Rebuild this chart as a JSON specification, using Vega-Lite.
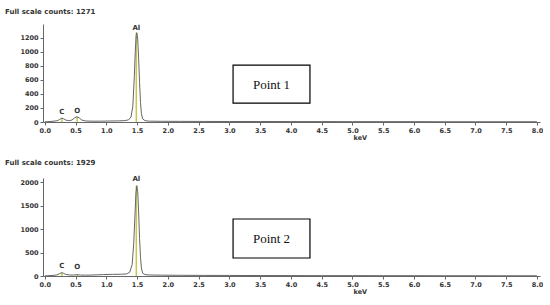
{
  "$schema": "https://vega.github.io/schema/vega-lite/v6.json",
  "padding": {"left": 5, "top": 7, "right": 0, "bottom": 0},
  "background": "white",
  "bounds": "flush",
  "spacing": 56,
  "config": {
    "view": {"stroke": null},
    "font": "DejaVu Sans",
    "axis": {
      "grid": false,
      "labelFontSize": 6.5,
      "labelFontWeight": "bold",
      "labelColor": "#333",
      "labelOverlap": false,
      "labelFlush": false,
      "domainColor": "#666",
      "tickColor": "#666",
      "tickSize": 3,
      "tickCount": 40,
      "titleFontSize": 6.5,
      "titleFontWeight": "bold",
      "titleColor": "#333"
    },
    "title": {"fontSize": 7, "fontWeight": "bold", "color": "#333", "anchor": "start", "frame": "group"}
  },
  "datasets": {
    "s1": [
      {"e": 0.0, "c": 2}, {"e": 0.05, "c": 5}, {"e": 0.1, "c": 8}, {"e": 0.15, "c": 12}, {"e": 0.2, "c": 18},
      {"e": 0.24, "c": 35}, {"e": 0.27, "c": 52}, {"e": 0.3, "c": 48}, {"e": 0.34, "c": 28}, {"e": 0.39, "c": 18},
      {"e": 0.44, "c": 28}, {"e": 0.48, "c": 55}, {"e": 0.52, "c": 75}, {"e": 0.56, "c": 58}, {"e": 0.6, "c": 28},
      {"e": 0.66, "c": 15}, {"e": 0.75, "c": 12}, {"e": 0.9, "c": 12}, {"e": 1.05, "c": 14}, {"e": 1.2, "c": 16},
      {"e": 1.3, "c": 20}, {"e": 1.36, "c": 30}, {"e": 1.4, "c": 70}, {"e": 1.43, "c": 220}, {"e": 1.455, "c": 650},
      {"e": 1.47, "c": 1000}, {"e": 1.485, "c": 1230}, {"e": 1.495, "c": 1271}, {"e": 1.51, "c": 1180}, {"e": 1.525, "c": 900},
      {"e": 1.54, "c": 560}, {"e": 1.555, "c": 280}, {"e": 1.57, "c": 120}, {"e": 1.59, "c": 45}, {"e": 1.63, "c": 18},
      {"e": 1.7, "c": 12}, {"e": 1.9, "c": 10}, {"e": 2.2, "c": 9}, {"e": 2.6, "c": 8}, {"e": 3.0, "c": 7},
      {"e": 3.5, "c": 7}, {"e": 4.0, "c": 6}, {"e": 4.5, "c": 6}, {"e": 5.0, "c": 5}, {"e": 5.5, "c": 5},
      {"e": 6.0, "c": 5}, {"e": 6.5, "c": 4}, {"e": 7.0, "c": 4}, {"e": 7.5, "c": 4}, {"e": 8.0, "c": 4}
    ],
    "s2": [
      {"e": 0.0, "c": 2}, {"e": 0.05, "c": 6}, {"e": 0.1, "c": 10}, {"e": 0.15, "c": 15}, {"e": 0.2, "c": 25},
      {"e": 0.24, "c": 50}, {"e": 0.27, "c": 70}, {"e": 0.3, "c": 60}, {"e": 0.34, "c": 35}, {"e": 0.4, "c": 22},
      {"e": 0.46, "c": 20}, {"e": 0.52, "c": 28}, {"e": 0.58, "c": 20}, {"e": 0.66, "c": 18}, {"e": 0.8, "c": 22},
      {"e": 0.95, "c": 30}, {"e": 1.1, "c": 35}, {"e": 1.25, "c": 38}, {"e": 1.33, "c": 45}, {"e": 1.38, "c": 80},
      {"e": 1.42, "c": 250}, {"e": 1.445, "c": 700}, {"e": 1.465, "c": 1300}, {"e": 1.48, "c": 1750}, {"e": 1.495, "c": 1929},
      {"e": 1.51, "c": 1800}, {"e": 1.525, "c": 1350}, {"e": 1.54, "c": 800}, {"e": 1.555, "c": 400}, {"e": 1.57, "c": 170},
      {"e": 1.59, "c": 60}, {"e": 1.63, "c": 30}, {"e": 1.7, "c": 22}, {"e": 1.9, "c": 18}, {"e": 2.2, "c": 15},
      {"e": 2.6, "c": 13}, {"e": 3.0, "c": 12}, {"e": 3.5, "c": 10}, {"e": 4.0, "c": 9}, {"e": 4.5, "c": 8},
      {"e": 5.0, "c": 8}, {"e": 5.5, "c": 7}, {"e": 6.0, "c": 7}, {"e": 6.5, "c": 6}, {"e": 7.0, "c": 6},
      {"e": 7.5, "c": 5}, {"e": 8.0, "c": 5}
    ],
    "l1": [
      {"e": 0.277, "z": 0, "c": 60, "t": 95, "lab": "C"},
      {"e": 0.525, "z": 0, "c": 80, "t": 120, "lab": "O"},
      {"e": 1.487, "z": 0, "c": 1271, "t": 1300, "lab": "Al"}
    ],
    "l2": [
      {"e": 0.277, "z": 0, "c": 75, "t": 160, "lab": "C"},
      {"e": 0.525, "z": 0, "c": 35, "t": 130, "lab": "O"},
      {"e": 1.487, "z": 0, "c": 1929, "t": 2000, "lab": "Al"}
    ],
    "b1": [{"x1": 3.06, "x2": 4.31, "y1": 270, "y2": 811, "xm": 3.685, "ym": 530, "lab": "Point 1"}],
    "b2": [{"x1": 3.06, "x2": 4.31, "y1": 385, "y2": 1218, "xm": 3.685, "ym": 790, "lab": "Point 2"}]
  },
  "vconcat": [
    {
      "width": 497,
      "height": 98,
      "title": {"text": "Full scale counts: 1271", "dx": -38, "offset": 9},
      "layer": [
        {
          "data": {"name": "l1"},
          "mark": {"type": "rule", "color": "#c4c84e", "strokeWidth": 1.5},
          "encoding": {
            "x": {"field": "e", "type": "quantitative", "scale": {"domain": [-0.03, 8.05], "nice": false},
                  "axis": {"values": [0, 0.5, 1, 1.5, 2, 2.5, 3, 3.5, 4, 4.5, 5, 5.5, 6, 6.5, 7, 7.5, 8], "tickCount": 40, "format": ".1f", "title": "keV", "titleX": 310, "titleAlign": "left", "titlePadding": 1, "labelPadding": 2}},
            "y": {"field": "z", "type": "quantitative", "scale": {"domain": [0, 1395], "nice": false},
                  "axis": {"values": [0, 200, 400, 600, 800, 1000, 1200], "tickCount": 40, "format": "d", "title": null, "labelPadding": 2}},
            "y2": {"field": "c"}
          }
        },
        {
          "data": {"name": "s1"},
          "mark": {"type": "line", "color": "#666", "strokeWidth": 1},
          "encoding": {
            "x": {"field": "e", "type": "quantitative"},
            "y": {"field": "c", "type": "quantitative"}
          }
        },
        {
          "data": {"name": "l1"},
          "mark": {"type": "text", "fontSize": 7, "fontWeight": "bold", "color": "#333", "baseline": "bottom"},
          "encoding": {
            "x": {"field": "e", "type": "quantitative"},
            "y": {"field": "t", "type": "quantitative"},
            "text": {"field": "lab"}
          }
        },
        {
          "data": {"name": "b1"},
          "mark": {"type": "rect", "fill": "white", "stroke": "black", "strokeWidth": 1.2},
          "encoding": {
            "x": {"field": "x1", "type": "quantitative"},
            "x2": {"field": "x2"},
            "y": {"field": "y1", "type": "quantitative"},
            "y2": {"field": "y2"}
          }
        },
        {
          "data": {"name": "b1"},
          "mark": {"type": "text", "font": "Liberation Serif", "fontSize": 13, "color": "#111"},
          "encoding": {
            "x": {"field": "xm", "type": "quantitative"},
            "y": {"field": "ym", "type": "quantitative"},
            "text": {"field": "lab"}
          }
        }
      ]
    },
    {
      "width": 497,
      "height": 98,
      "title": {"text": "Full scale counts: 1929", "dx": -38, "offset": 9},
      "layer": [
        {
          "data": {"name": "l2"},
          "mark": {"type": "rule", "color": "#c4c84e", "strokeWidth": 1.5},
          "encoding": {
            "x": {"field": "e", "type": "quantitative", "scale": {"domain": [-0.03, 8.05], "nice": false},
                  "axis": {"values": [0, 0.5, 1, 1.5, 2, 2.5, 3, 3.5, 4, 4.5, 5, 5.5, 6, 6.5, 7, 7.5, 8], "tickCount": 40, "format": ".1f", "title": "keV", "titleX": 310, "titleAlign": "left", "titlePadding": 1, "labelPadding": 2}},
            "y": {"field": "z", "type": "quantitative", "scale": {"domain": [0, 2094], "nice": false},
                  "axis": {"values": [0, 500, 1000, 1500, 2000], "tickCount": 40, "format": "d", "title": null, "labelPadding": 2}},
            "y2": {"field": "c"}
          }
        },
        {
          "data": {"name": "s2"},
          "mark": {"type": "line", "color": "#666", "strokeWidth": 1},
          "encoding": {
            "x": {"field": "e", "type": "quantitative"},
            "y": {"field": "c", "type": "quantitative"}
          }
        },
        {
          "data": {"name": "l2"},
          "mark": {"type": "text", "fontSize": 7, "fontWeight": "bold", "color": "#333", "baseline": "bottom"},
          "encoding": {
            "x": {"field": "e", "type": "quantitative"},
            "y": {"field": "t", "type": "quantitative"},
            "text": {"field": "lab"}
          }
        },
        {
          "data": {"name": "b2"},
          "mark": {"type": "rect", "fill": "white", "stroke": "black", "strokeWidth": 1.2},
          "encoding": {
            "x": {"field": "x1", "type": "quantitative"},
            "x2": {"field": "x2"},
            "y": {"field": "y1", "type": "quantitative"},
            "y2": {"field": "y2"}
          }
        },
        {
          "data": {"name": "b2"},
          "mark": {"type": "text", "font": "Liberation Serif", "fontSize": 13, "color": "#111"},
          "encoding": {
            "x": {"field": "xm", "type": "quantitative"},
            "y": {"field": "ym", "type": "quantitative"},
            "text": {"field": "lab"}
          }
        }
      ]
    }
  ]
}
